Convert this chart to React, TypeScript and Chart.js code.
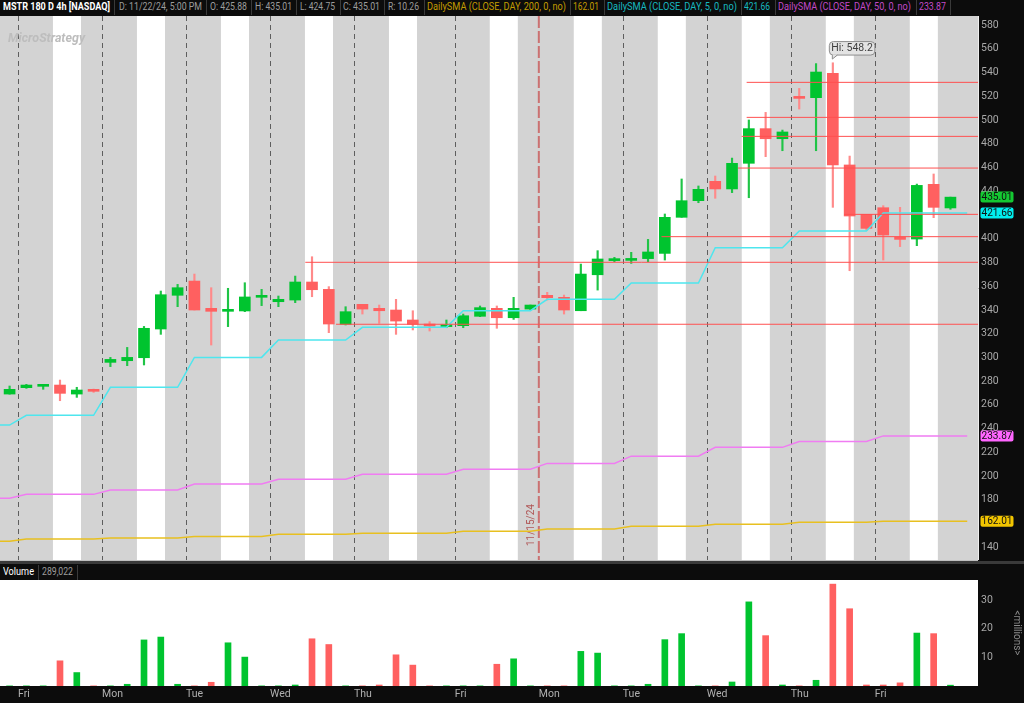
import React, { useEffect, useLayoutEffect, useRef } from 'react';
import { Chart, registerables } from 'chart.js';

Chart.register(...registerables);

const FONT = '"Liberation Sans Narrow", Roboto, "DejaVu Sans", sans-serif';
Chart.defaults.font.family = FONT;

// ---------------- data ----------------
// one 4h bar per slot; slot 0 is the last bar of Thu 11/7
const opens = [269.1, 274.5, 275.6, 276.7, 269.1, 272.5, 295.8, 297.2, 299.7, 323.9, 352.3, 364.3, 341.3, 338.8, 339.1, 350.6, 346.9, 348.3, 363.5, 357.3, 327.8, 344.7, 341.3, 339.9, 331.5, 327.8, 325.9, 326.7, 334.6, 341.3, 333.4, 340.7, 352.3, 350.6, 339.3, 369.6, 381.5, 381.7, 383.2, 387.6, 418.0, 432.0, 448.3, 441.9, 463.5, 492.7, 484.2, 519.6, 518.8, 539.3, 462.1, 420.5, 426.1, 401.4, 399.7, 445.8, 425.88];
const highs = [275.9, 277.3, 276.7, 280.9, 274.8, 273.3, 300.0, 308.4, 326.1, 355.9, 361.5, 370.2, 358.7, 358.2, 362.9, 357.3, 351.7, 368.5, 384.8, 359.6, 342.7, 344.7, 344.1, 348.9, 339.3, 330.1, 331.5, 336.5, 343.3, 343.3, 350.6, 344.1, 354.8, 352.5, 378.6, 389.9, 384.3, 388.5, 399.4, 420.8, 450.3, 444.4, 452.8, 467.9, 500.0, 506.4, 491.5, 526.6, 547.5, 548.2, 469.6, 420.5, 427.8, 426.4, 446.0, 454.5, 435.01];
const lows = [269.0, 273.9, 273.1, 263.5, 266.3, 270.5, 292.2, 293.0, 293.6, 319.4, 342.7, 339.9, 310.4, 325.9, 338.5, 343.6, 342.7, 346.1, 351.1, 320.8, 327.3, 336.5, 328.7, 319.4, 323.1, 322.2, 325.0, 325.0, 334.3, 324.5, 332.0, 339.9, 348.3, 336.5, 339.3, 356.7, 380.6, 379.2, 380.6, 382.0, 418.0, 430.3, 434.0, 438.8, 434.5, 469.1, 474.1, 509.2, 474.1, 426.4, 373.0, 407.0, 382.0, 393.3, 394.1, 417.7, 424.75];
const closes = [273.1, 276.7, 276.7, 269.7, 272.5, 271.4, 298.3, 300.0, 324.5, 352.8, 358.7, 339.9, 338.8, 339.9, 350.9, 351.9, 348.9, 363.5, 357.0, 328.1, 338.5, 340.7, 339.3, 330.6, 327.8, 326.4, 327.3, 335.1, 341.9, 333.4, 341.3, 344.1, 350.3, 339.9, 370.2, 382.9, 382.9, 383.1, 388.8, 418.0, 432.0, 441.6, 441.9, 463.5, 492.7, 484.2, 489.9, 518.2, 540.4, 462.1, 419.1, 408.7, 403.1, 399.4, 444.9, 426.4, 435.01];
// volume in millions
const volumes = [0.05, 0.05, 0.05, 8.8, 4.7, 0.05, 0.05, 0.6, 16.1, 17.1, 0.6, 0.05, 1.3, 15.1, 10.1, 0.05, 0.05, 0.35, 16.5, 14.5, 0.05, 0.05, 0.35, 10.9, 7.3, 0.05, 0.05, 0.05, 0.05, 7.6, 9.5, 0.05, 0.05, 0.05, 12.1, 11.5, 0.05, 0.05, 0.6, 16.2, 18.3, 0.05, 0.05, 1.4, 29.4, 17.6, 0.35, 0.05, 2.0, 35.6, 27.0, 0.35, 0.35, 1.1, 18.5, 18.3, 0.29];

// trading days
const dayNames = ['Thu', 'Fri', 'Mon', 'Tue', 'Wed', 'Thu', 'Fri', 'Mon', 'Tue', 'Wed', 'Thu', 'Fri'];
const dayStarts = [-4, 1, 6, 11, 16, 21, 27, 32, 37, 42, 47, 52];
const daySlots = [5, 5, 5, 5, 5, 6, 5, 5, 5, 5, 5, 6];

// daily SMAs (value for each day)
const sma200 = [145.0, 147.0, 147.8, 149.2, 150.9, 151.8, 153.5, 155.4, 157.7, 159.4, 161.0, 162.01];
const sma5 = [243.0, 251.2, 274.8, 300.0, 314.6, 325.3, 339.3, 348.9, 362.6, 392.4, 406.5, 421.66];
const sma50 = [181.3, 184.6, 188.3, 193.3, 197.3, 201.5, 205.7, 210.7, 216.8, 224.2, 229.2, 233.87];

// price levels (red horizontal lines) and the slot where each begins
const levelPrices = [531.7, 502.2, 486.2, 459.5, 420.5, 401.7, 380.1, 327.9];
const levelStarts = [43.87, 43.87, 43.57, 43.36, 49.67, 38.8, 17.6, 19.43];

const priceTicks = [140, 160, 180, 200, 220, 240, 260, 280, 300, 320, 340, 360, 380, 400, 420, 440, 460, 480, 500, 520, 540, 560, 580];
const volumeTicks = [10, 20, 30];

const eventSlot = 31.5;
const eventLabel = '11/15/24';
const hiSlot = 49;
const hiValue = 548.2;

// view ranges
const slotMin = -0.571;
const slotMax = 57.64;
const priceMin = 129.3;
const priceMax = 587.6;
const volumeMax = 37.04;

// ---------------- styles ----------------
const GREEN = '#00c42f';
const RED = '#ff6060';
const GREEN_WICK = '#1fc446';
const RED_WICK = '#ff8a8a';
const BAND_GRAY = '#d3d3d3';
const sessionFrom = 1.58;
const sessionTo = 3.25;

const idx = opens.map((_, i) => i);
const isUp = idx.map((i) => closes[i] >= opens[i]);
const last = opens.length - 1;

function smaPoints(vals: number[]) {
  const pts: { x: number; y: number }[] = [];
  dayStarts.forEach((s, d) => {
    for (let k = 0; k < daySlots[d]; k++) pts.push({ x: s + k, y: vals[d] });
  });
  return pts;
}

const badges = [
  { value: closes[last], color: '#14c832' },
  { value: sma5[sma5.length - 1], color: '#00eeee' },
  { value: sma50[sma50.length - 1], color: '#ff66ff' },
  { value: sma200[sma200.length - 1], color: '#f2c500' },
];

const pricePlugin = {
  id: 'pricePanel',
  beforeDraw(chart: any) {
    const { ctx, chartArea: a } = chart;
    const xs = chart.scales.x;
    ctx.save();
    ctx.fillStyle = BAND_GRAY;
    ctx.fillRect(a.left, a.top, a.right - a.left, a.bottom - a.top);
    ctx.beginPath();
    ctx.rect(a.left, a.top, a.right - a.left, a.bottom - a.top);
    ctx.clip();
    ctx.fillStyle = '#ffffff';
    dayStarts.forEach((s) => {
      const x0 = xs.getPixelForValue(s + sessionFrom);
      const x1 = xs.getPixelForValue(s + sessionTo);
      ctx.fillRect(x0, a.top, x1 - x0, a.bottom - a.top);
    });
    ctx.strokeStyle = '#5e5e5e';
    ctx.lineWidth = 1;
    ctx.setLineDash([5, 4]);
    dayStarts.forEach((s) => {
      const v = s - 0.5;
      if (v === eventSlot) return;
      const px = Math.round(xs.getPixelForValue(v)) + 0.5;
      ctx.beginPath();
      ctx.moveTo(px, a.top);
      ctx.lineTo(px, a.bottom);
      ctx.stroke();
    });
    const ex = xs.getPixelForValue(eventSlot);
    ctx.strokeStyle = 'rgba(200, 80, 80, 0.75)';
    ctx.lineWidth = 2;
    ctx.setLineDash([12, 3]);
    ctx.beginPath();
    ctx.moveTo(ex, a.top);
    ctx.lineTo(ex, a.bottom);
    ctx.stroke();
    ctx.setLineDash([]);
    ctx.translate(ex - 7, a.bottom - 14);
    ctx.rotate(-Math.PI / 2);
    ctx.fillStyle = '#b05656';
    ctx.font = `10px ${FONT}`;
    ctx.textAlign = 'left';
    ctx.textBaseline = 'middle';
    ctx.fillText(eventLabel, 0, 0);
    ctx.restore();
  },
  afterDraw(chart: any) {
    const { ctx, chartArea: a } = chart;
    const xs = chart.scales.x;
    const ys = chart.scales.y;
    ctx.save();
    // Hi bubble
    const hx = xs.getPixelForValue(hiSlot);
    const hy = ys.getPixelForValue(hiValue);
    const bw = 45.5;
    const bh = 13.5;
    const bx = hx - 3.5;
    const by = hy - 7.7 - bh;
    ctx.fillStyle = '#e3e3e3';
    ctx.strokeStyle = '#8e8e8e';
    ctx.lineWidth = 1;
    ctx.beginPath();
    ctx.roundRect(bx, by, bw, bh, 4);
    ctx.fill();
    ctx.stroke();
    ctx.beginPath();
    ctx.moveTo(bx + 3, by + bh - 0.6);
    ctx.lineTo(bx + 3, by + bh + 4);
    ctx.lineTo(bx + 8, by + bh - 0.6);
    ctx.closePath();
    ctx.fill();
    ctx.beginPath();
    ctx.moveTo(bx + 3, by + bh);
    ctx.lineTo(bx + 3, by + bh + 4);
    ctx.lineTo(bx + 8, by + bh);
    ctx.stroke();
    ctx.fillStyle = '#3f3f3f';
    ctx.font = `10.5px ${FONT}`;
    ctx.textAlign = 'center';
    ctx.textBaseline = 'middle';
    ctx.fillText(`Hi: ${hiValue}`, bx + bw / 2, by + bh / 2 + 0.5);
    // axis badges
    badges.forEach(({ value, color }) => {
      const yc = ys.getPixelForValue(value);
      const w = 33;
      const h = 11;
      const x0 = a.right + 2.5;
      ctx.fillStyle = color;
      ctx.beginPath();
      ctx.roundRect(x0, yc - h / 2, w, h, 2);
      ctx.fill();
      ctx.fillStyle = '#111111';
      ctx.font = `10.5px ${FONT}`;
      ctx.textAlign = 'center';
      ctx.textBaseline = 'middle';
      ctx.fillText(value.toFixed(2), x0 + w / 2, yc + 0.5, w - 2);
    });
    ctx.restore();
  },
};

const volumePlugin = {
  id: 'volumePanel',
  beforeDraw(chart: any) {
    const { ctx, chartArea: a } = chart;
    ctx.save();
    ctx.fillStyle = '#ffffff';
    ctx.fillRect(a.left, a.top, a.right - a.left, a.bottom - a.top);
    ctx.restore();
  },
};

function FitText(props: {
  text: string;
  left: number;
  top: number;
  width: number;
  color: string;
  size?: number;
  weight?: number;
  italic?: boolean;
}) {
  const { text, left, top, width, color, size = 10, weight = 400, italic = false } = props;
  const ref = useRef<HTMLSpanElement>(null);
  useLayoutEffect(() => {
    const el = ref.current;
    if (!el) return;
    const fit = () => {
      el.style.transform = 'none';
      const w = el.getBoundingClientRect().width;
      if (w > 0) el.style.transform = `scaleX(${width / w})`;
    };
    fit();
    const f = (document as any).fonts;
    if (f && f.ready) f.ready.then(fit);
  }, [text, width]);
  return (
    <span
      ref={ref}
      style={{
        position: 'absolute',
        left,
        top,
        whiteSpace: 'nowrap',
        transformOrigin: '0 0',
        fontFamily: FONT,
        fontSize: size,
        lineHeight: `${size + 2}px`,
        color,
        fontWeight: weight,
        fontStyle: italic ? 'italic' : 'normal',
      }}
    >
      {text}
    </span>
  );
}

const headerItems = [
  { text: 'MSTR 180 D 4h [NASDAQ]', left: 3, width: 107, color: '#ffffff', weight: 700 },
  { text: 'D: 11/22/24, 5:00 PM', left: 119, width: 83, color: '#9c9c9c' },
  { text: 'O: 425.88', left: 210, width: 37, color: '#9c9c9c' },
  { text: 'H: 435.01', left: 255, width: 37, color: '#9c9c9c' },
  { text: 'L: 424.75', left: 300, width: 35, color: '#9c9c9c' },
  { text: 'C: 435.01', left: 343, width: 37, color: '#9c9c9c' },
  { text: 'R: 10.26', left: 388, width: 31, color: '#9c9c9c' },
  { text: 'DailySMA (CLOSE, DAY, 200, 0, no)', left: 427, width: 139, color: '#c39c00' },
  { text: '162.01', left: 573, width: 26, color: '#c39c00' },
  { text: 'DailySMA (CLOSE, DAY, 5, 0, no)', left: 607, width: 130, color: '#17b9c0' },
  { text: '421.66', left: 744, width: 26, color: '#17b9c0' },
  { text: 'DailySMA (CLOSE, DAY, 50, 0, no)', left: 778, width: 133, color: '#c24ac8' },
  { text: '233.87', left: 919, width: 27, color: '#c24ac8' },
];
const headerDividers = [114, 206, 251, 296, 340, 384, 424, 570, 604, 741, 775, 916, 950];

export default function App() {
  const priceRef = useRef<HTMLCanvasElement>(null);
  const volRef = useRef<HTMLCanvasElement>(null);

  useEffect(() => {
    const candleBodies = {
      type: 'bar' as const,
      data: idx.map((i) => ({ x: i, y: [opens[i], closes[i]] })),
      backgroundColor: idx.map((i) => (isUp[i] ? GREEN : RED)),
      barThickness: 11,
      minBarLength: 2,
      grouped: false,
      order: 4,
    };
    const candleWicks = {
      type: 'bar' as const,
      data: idx.map((i) => ({ x: i, y: [lows[i], highs[i]] })),
      backgroundColor: idx.map((i) => (isUp[i] ? GREEN_WICK : RED_WICK)),
      barThickness: 1.5,
      grouped: false,
      order: 5,
    };
    const smaLine = (vals: number[], color: string) => ({
      type: 'line' as const,
      data: smaPoints(vals),
      borderColor: color,
      borderWidth: 1.5,
      pointRadius: 0,
      tension: 0,
      order: 3,
    });
    const levelLines = levelPrices.map((p, i) => ({
      type: 'line' as const,
      data: [
        { x: levelStarts[i], y: p },
        { x: slotMax, y: p },
      ],
      borderColor: '#ff5050',
      borderWidth: 1,
      pointRadius: 0,
      order: 2,
    }));

    const price = new Chart(priceRef.current as HTMLCanvasElement, {
      type: 'bar',
      data: {
        datasets: [
          candleWicks,
          candleBodies,
          smaLine(sma200, '#e8c020'),
          smaLine(sma50, '#f07cf2'),
          smaLine(sma5, '#4ee6ee'),
          ...levelLines,
        ] as any,
      },
      options: {
        responsive: false,
        animation: false,
        events: [],
        layout: { padding: 0 },
        plugins: { legend: { display: false }, tooltip: { enabled: false } },
        scales: {
          x: { type: 'linear', min: slotMin, max: slotMax, display: false, offset: false },
          y: {
            type: 'linear',
            position: 'right',
            min: priceMin,
            max: priceMax,
            afterBuildTicks: (s: any) => {
              s.ticks = priceTicks.map((v) => ({ value: v }));
            },
            afterFit: (s: any) => {
              s.width = 46;
              s.paddingTop = 0;
              s.paddingBottom = 0;
            },
            ticks: { color: '#a9a9a9', font: { family: FONT, size: 10.5 }, padding: 3 },
            grid: { display: false, drawTicks: false },
            border: { display: true, color: '#eeeeee', width: 1 },
          },
        },
      } as any,
      plugins: [pricePlugin],
    });

    const volume = new Chart(volRef.current as HTMLCanvasElement, {
      type: 'bar',
      data: {
        datasets: [
          {
            data: idx.map((i) => ({ x: i, y: volumes[i] })),
            backgroundColor: idx.map((i) => (isUp[i] ? GREEN : RED)),
            barThickness: 6,
            grouped: false,
          },
        ] as any,
      },
      options: {
        responsive: false,
        animation: false,
        events: [],
        layout: { padding: 0 },
        plugins: { legend: { display: false }, tooltip: { enabled: false } },
        scales: {
          x: {
            type: 'linear',
            min: slotMin,
            max: slotMax,
            offset: false,
            afterBuildTicks: (s: any) => {
              s.ticks = dayStarts.slice(1).map((d) => ({ value: d - 0.5 }));
            },
            afterFit: (s: any) => {
              s.height = 17;
              s.paddingLeft = 0;
              s.paddingRight = 0;
            },
            ticks: {
              autoSkip: false,
              maxRotation: 0,
              align: 'start',
              padding: 2,
              color: '#b0b0b0',
              font: { family: FONT, size: 10.5 },
              callback: (_v: any, i: number) => dayNames[i + 1],
            },
            grid: { display: false, drawTicks: false },
            border: { display: false },
          },
          y: {
            type: 'linear',
            position: 'right',
            min: 0,
            max: volumeMax,
            afterBuildTicks: (s: any) => {
              s.ticks = volumeTicks.map((v) => ({ value: v }));
            },
            afterFit: (s: any) => {
              s.width = 46;
              s.paddingTop = 0;
              s.paddingBottom = 0;
            },
            ticks: { color: '#a9a9a9', font: { family: FONT, size: 10.5 }, padding: 3 },
            grid: { display: false, drawTicks: false },
            border: { display: false },
            title: {
              display: true,
              text: '<millions>',
              color: '#8c8c8c',
              font: { family: FONT, size: 10 },
              padding: { top: 2, bottom: 0 },
            },
          },
        },
      } as any,
      plugins: [volumePlugin],
    });

    return () => {
      price.destroy();
      volume.destroy();
    };
  }, []);

  return (
    <div
      style={{
        position: 'absolute',
        left: 0,
        top: 0,
        width: 1024,
        height: 703,
        background: '#0c0c0c',
        overflow: 'hidden',
      }}
    >
      {headerItems.map((h) => (
        <FitText key={h.text + h.left} text={h.text} left={h.left} top={1} width={h.width} color={h.color} weight={h.weight || 400} />
      ))}
      {headerDividers.map((x) => (
        <div key={x} style={{ position: 'absolute', left: x, top: 0, width: 1, height: 15, background: '#3a3a3a' }} />
      ))}
      <canvas ref={priceRef} width={1024} height={544} style={{ position: 'absolute', left: 0, top: 16 }} />
      <FitText text="MicroStrategy" left={8} top={31} width={77} color="#bdbdbd" size={12} weight={700} italic />
      <div style={{ position: 'absolute', left: 0, top: 560, width: 978, height: 1, background: '#bfbfbf' }} />
      <div style={{ position: 'absolute', left: 0, top: 561, width: 1024, height: 3, background: '#3a3a3a' }} />
      <FitText text="Volume" left={3} top={566} width={31} color="#ffffff" />
      <div style={{ position: 'absolute', left: 38, top: 565, width: 1, height: 15, background: '#3a3a3a' }} />
      <FitText text="289,022" left={42} top={566} width={31} color="#9c9c9c" />
      <div style={{ position: 'absolute', left: 77, top: 565, width: 1, height: 15, background: '#3a3a3a' }} />
      <canvas ref={volRef} width={1024} height={123} style={{ position: 'absolute', left: 0, top: 580 }} />
    </div>
  );
}
